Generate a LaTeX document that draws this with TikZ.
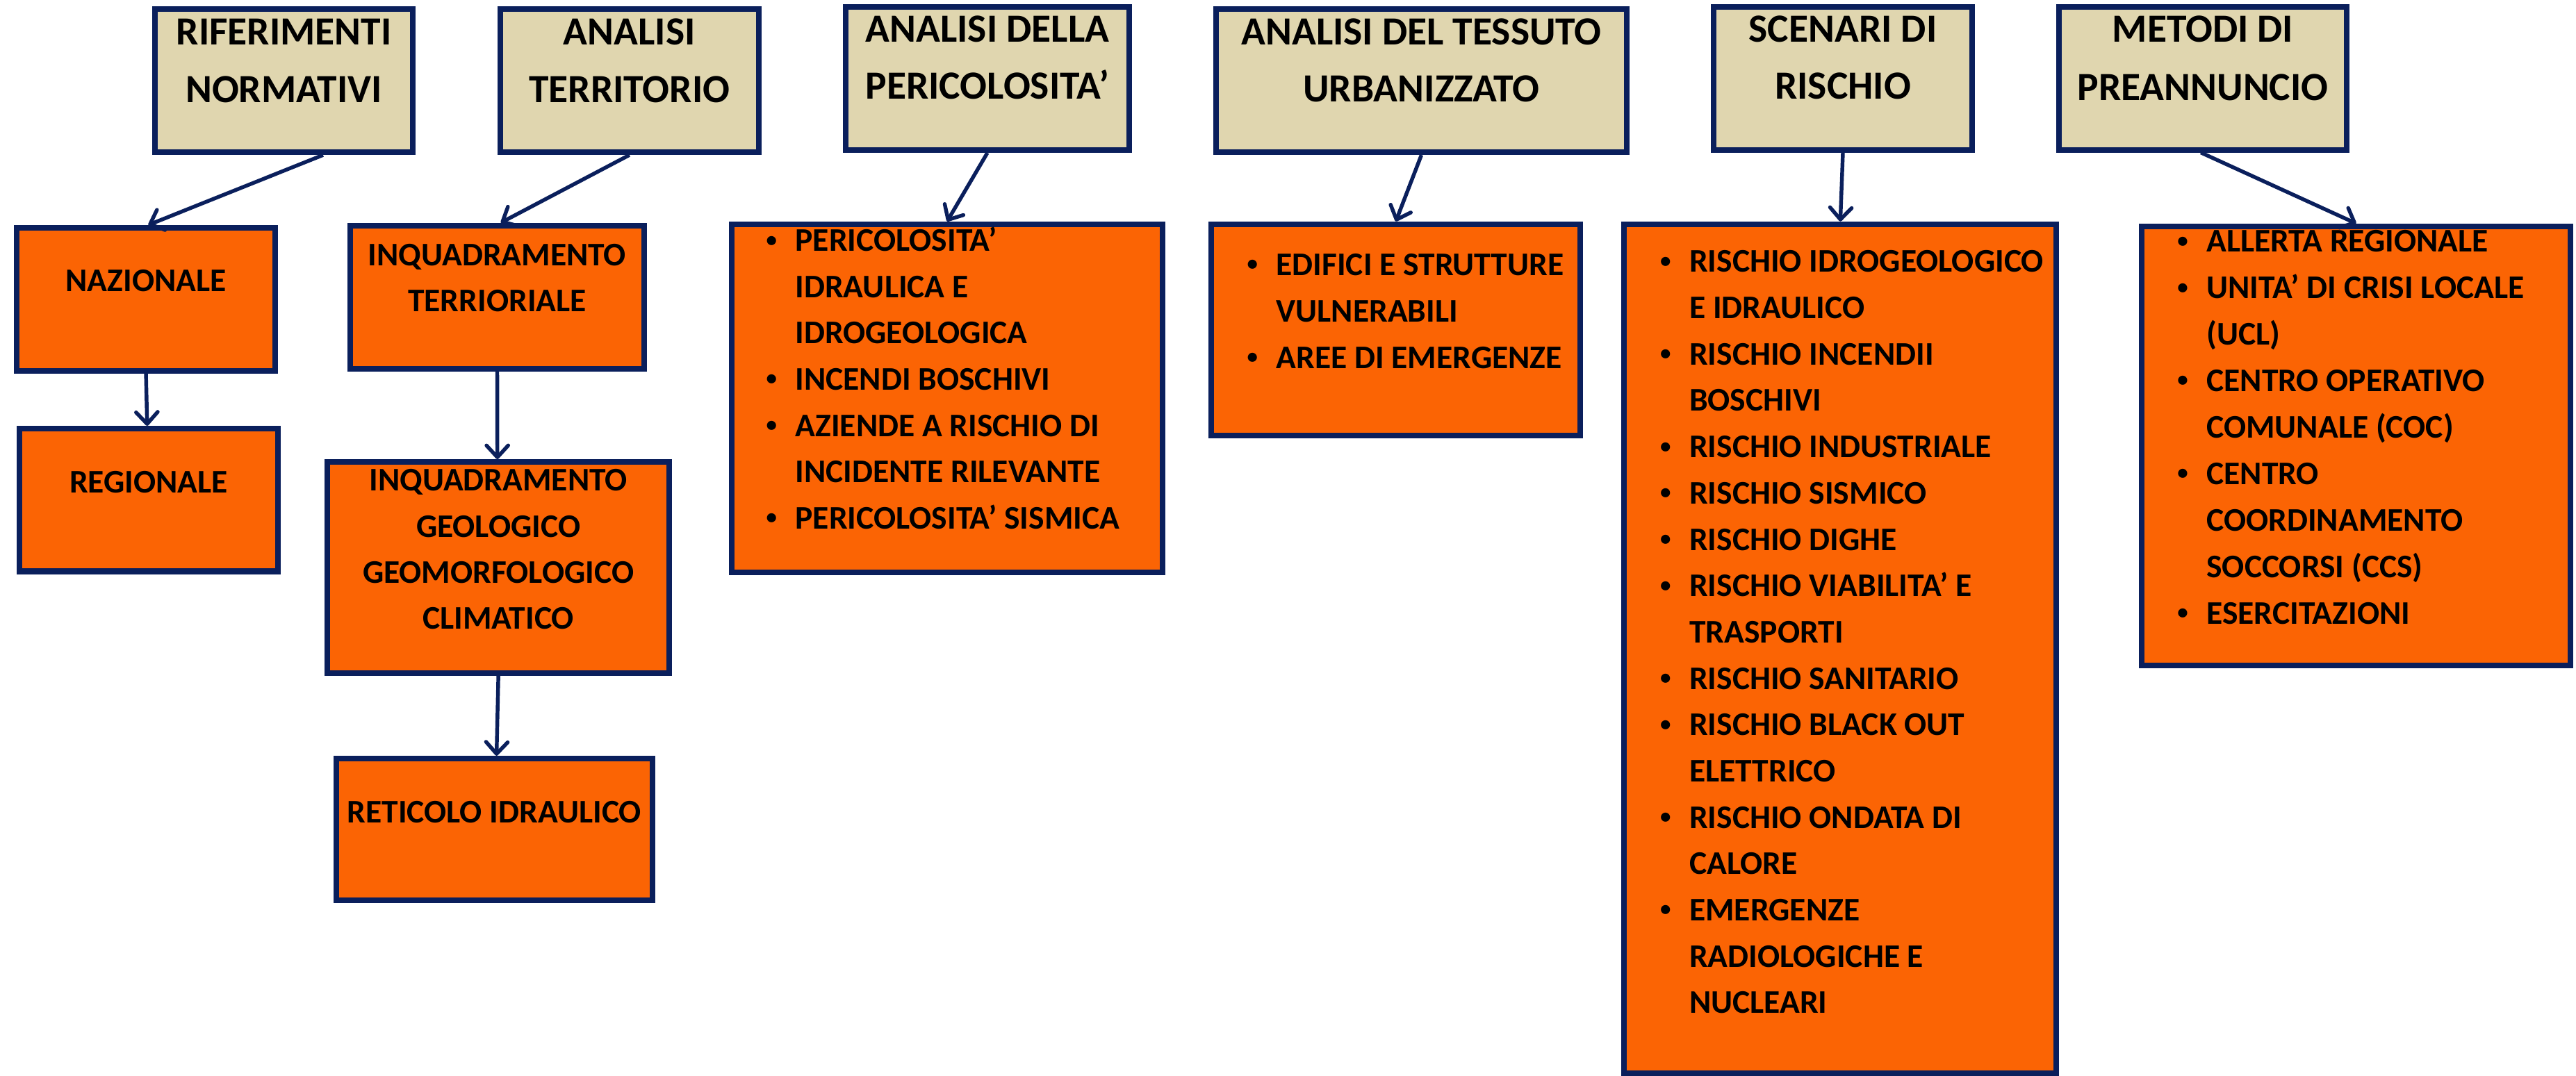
\documentclass[tikz,border=0pt]{standalone}
\usepackage{fontspec}
\usepackage{graphicx}
\setmainfont{Carlito}
\usetikzlibrary{arrows.meta}
\definecolor{boxnavy}{HTML}{0A1F5C}
\definecolor{headtan}{HTML}{E0D6AF}
\definecolor{leaforange}{HTML}{FB6404}
\newcommand{\headfont}{\fontsize{34.6}{49.6}\selectfont\bfseries}
\newcommand{\leaffont}{\fontsize{28.6}{40.1}\selectfont\bfseries}
\newcommand{\bul}{\llap{\makebox[14.5mm][c]{\raisebox{0.14em}{\scalebox{0.65}{\textbullet}}}}}
\tikzset{%
    headbox/.style={draw=boxnavy, fill=headtan, line width=1.7mm, inner sep=0pt},
    leafbox/.style={draw=boxnavy, fill=leaforange, line width=1.7mm, inner sep=0pt},
    headtxt/.style={font=\headfont, anchor=base, inner sep=0pt},
    leaftxt/.style={font=\leaffont, anchor=base, inner sep=0pt},
    listtxt/.style={font=\leaffont, anchor=base west, inner sep=0pt},
    link/.style={draw=boxnavy, line width=1.15mm,
        -{Straight Barb[length=3.6mm,width=6.6mm,round]}}
}

\begin{document}
\begin{tikzpicture}[x=0.5mm,y=-0.5mm]
    \useasboundingbox (0,0) rectangle (1568,655.2);
    % top row
    \node[headbox, minimum width=78.55mm, minimum height=43.5mm] (rifnorm) at (172.85,49.2) {};
    \node[headbox, minimum width=78.7mm, minimum height=43.5mm] (anterr) at (383.1,49.2) {};
    \node[headbox, minimum width=86.4mm, minimum height=43.55mm] (anper) at (601,47.85) {};
    \node[headbox, minimum width=125.1mm, minimum height=43.6mm] (antess) at (865.2,49.1) {};
    \node[headbox, minimum width=78.55mm, minimum height=43.55mm] (scen) at (1121.75,47.85) {};
    \node[headbox, minimum width=87.65mm, minimum height=43.4mm] (metodi) at (1340.85,47.8) {};
    \node[headtxt] (rifnorm-a) at (172.85,27.2) {RIFERIMENTI};
    \node[headtxt] (rifnorm-b) at (172.85,62.2) {NORMATIVI};
    \node[headtxt] (anterr-a) at (383.1,27.2) {ANALISI};
    \node[headtxt] (anterr-b) at (383.1,62.2) {TERRITORIO};
    \node[headtxt] (anper-a) at (601,25.5) {ANALISI DELLA};
    \node[headtxt] (anper-b) at (601,60.4) {PERICOLOSITA’};
    \node[headtxt] (antess-a) at (865.2,27.4) {ANALISI DEL TESSUTO};
    \node[headtxt] (antess-b) at (865.2,61.9) {URBANIZZATO};
    \node[headtxt] (scen-a) at (1121.75,25.5) {SCENARI DI};
    \node[headtxt] (scen-b) at (1121.75,60.4) {RISCHIO};
    \node[headtxt] (metodi-a) at (1340.85,25.4) {METODI DI};
    \node[headtxt] (metodi-b) at (1340.85,61) {PREANNUNCIO};

    % orange boxes
    \node[leafbox, minimum width=78.75mm, minimum height=43.6mm] (naz) at (88.85,182.3) {};
    \node[leafbox, minimum width=78.6mm, minimum height=43.45mm] (reg) at (90.5,304.45) {};
    \node[leafbox, minimum width=89.65mm, minimum height=43.6mm] (inqter) at (302.65,180.9) {};
    \node[leafbox, minimum width=104.15mm, minimum height=64.3mm] (inqgeo) at (303.35,345.6) {};
    \node[leafbox, minimum width=96.15mm, minimum height=43.2mm] (retic) at (300.85,505.1) {};
    \node[leafbox, minimum width=131.1mm, minimum height=106.05mm] (perlist) at (576.5,242.55) {};
    \node[leafbox, minimum width=112.2mm, minimum height=64.4mm] (tesslist) at (849.6,200.9) {};
    \node[leafbox, minimum width=131.5mm, minimum height=258.5mm] (scenlist) at (1120.2,395) {};
    \node[leafbox, minimum width=130.5mm, minimum height=133.65mm] (metlist) at (1434.2,271.45) {};

    \node[leaftxt] (naz-t) at (88.85,177.3) {NAZIONALE};
    \node[leaftxt] (reg-t) at (90.5,300) {REGIONALE};
    \node[leaftxt] (inqter-a) at (302.65,162) {INQUADRAMENTO};
    \node[leaftxt] (inqter-b) at (302.65,189.9) {TERRIORIALE};
    \foreach \t [count=\i from 0] in {INQUADRAMENTO, GEOLOGICO, GEOMORFOLOGICO, CLIMATICO}
        \node[leaftxt] (inqgeo-\i) at (303.35,{298.9+28.1*\i}) {\t};
    \node[leaftxt] (retic-t) at (300.85,501) {RETICOLO IDRAULICO};

    % bullet lists
    \foreach \t [count=\i from 0] in {\bul PERICOLOSITA’, IDRAULICA E, IDROGEOLOGICA,
        \bul INCENDI BOSCHIVI, \bul AZIENDE A RISCHIO DI, INCIDENTE RILEVANTE,
        \bul PERICOLOSITA’ SISMICA}
        \node[listtxt] (perlist-\i) at (484,{153+28.17*\i}) {\t};
    \foreach \t [count=\i from 0] in {\bul EDIFICI E STRUTTURE, VULNERABILI,
        \bul AREE DI EMERGENZE}
        \node[listtxt] (tesslist-\i) at (776.7,{167.7+28.25*\i}) {\t};
    \foreach \t [count=\i from 0] in {\bul RISCHIO IDROGEOLOGICO, E IDRAULICO,
        \bul RISCHIO INCENDII, BOSCHIVI, \bul RISCHIO INDUSTRIALE,
        \bul RISCHIO SISMICO, \bul RISCHIO DIGHE, \bul RISCHIO VIABILITA’ E,
        TRASPORTI, \bul RISCHIO SANITARIO, \bul RISCHIO BLACK OUT, ELETTRICO,
        \bul RISCHIO ONDATA DI, CALORE, \bul EMERGENZE, RADIOLOGICHE E, NUCLEARI}
        \node[listtxt] (scenlist-\i) at (1028.2,{165.8+28.2*\i}) {\t};
    \foreach \t [count=\i from 0] in {\bul ALLERTA REGIONALE,
        \bul UNITA’ DI CRISI LOCALE, {(UCL)}, \bul CENTRO OPERATIVO,
        {COMUNALE (COC)}, \bul CENTRO, COORDINAMENTO, {SOCCORSI (CCS)},
        \bul ESERCITAZIONI}
        \node[listtxt] (metlist-\i) at (1343,{153.5+28.3*\i}) {\t};

    % arrows
    \draw[link] ([xshift=11.9mm]rifnorm.south) -- ([xshift=0.7mm]naz.north);
    \draw[link] (naz.south) -- ([xshift=-0.45mm]reg.north);
    \draw[link] (anterr.south) -- ([xshift=1.1mm]inqter.north);
    \draw[link] (inqter.south) -- ([xshift=-0.3mm]inqgeo.north);
    \draw[link] (inqgeo.south) -- ([xshift=0.7mm]retic.north);
    \draw[link] (anper.south) -- (perlist.north);
    \draw[link] (antess.south) -- (tesslist.north);
    \draw[link] (scen.south) -- (scenlist.north);
    \draw[link] ([xshift=-0.6mm]metodi.south) -- (metlist.north);
\end{tikzpicture}
\end{document}
